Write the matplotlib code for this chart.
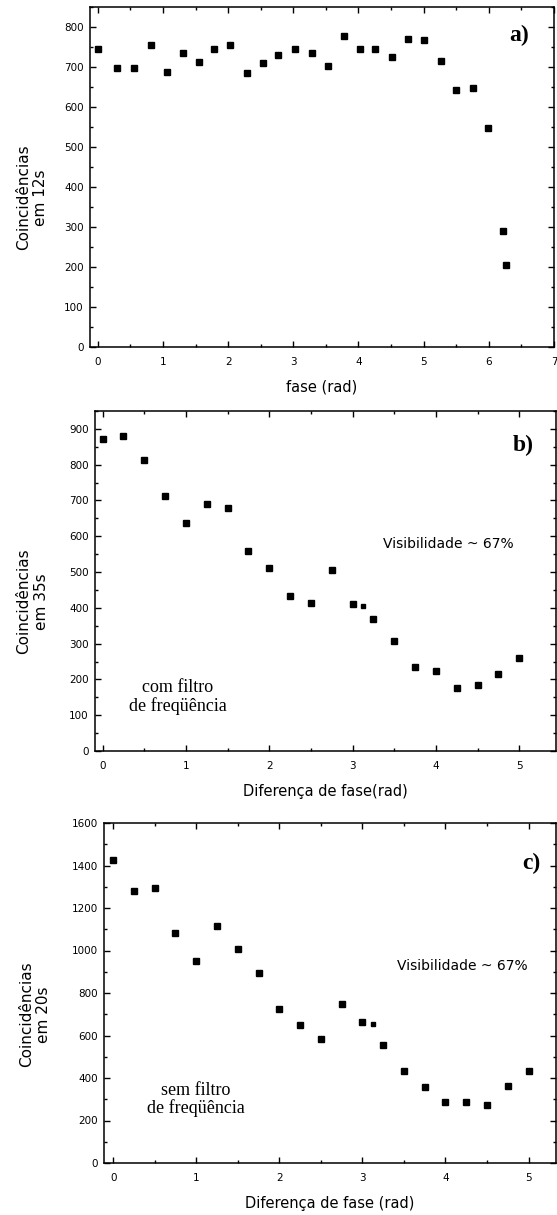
import matplotlib.pyplot as plt
from matplotlib.ticker import MultipleLocator

plt.rcParams['font.family'] = ['DejaVu Sans']

# a) fase vs coincidencias em 12s
fase_a = [0.0, 0.3, 0.56, 0.82, 1.06, 1.3, 1.55, 1.79, 2.03, 2.29, 2.54, 2.77,
          3.03, 3.28, 3.53, 3.77, 4.02, 4.26, 4.51, 4.76, 5.0, 5.26, 5.5, 5.75,
          5.99, 6.22, 6.27]
coinc_a = [746, 698, 698, 754, 688, 734, 713, 745, 756, 685, 710, 731,
           745, 734, 702, 778, 745, 745, 726, 771, 767, 716, 643, 647,
           547, 291, 206]

# b) com filtro, 35s
fase_b = [0.0, 0.25, 0.5, 0.75, 1.0, 1.25, 1.5, 1.75, 2.0, 2.25, 2.5, 2.75,
          3.0, 3.25, 3.5, 3.75, 4.0, 4.25, 4.5, 4.75, 5.0]
coinc_b = [871, 880, 813, 713, 636, 689, 680, 560, 511, 433, 414, 507,
           410, 368, 306, 236, 224, 177, 185, 214, 260]
pi_b = [3.13]
coinc_pi_b = [404]

# c) sem filtro, 20s
fase_c = [0.0, 0.25, 0.5, 0.75, 1.0, 1.25, 1.5, 1.75, 2.0, 2.25, 2.5, 2.75,
          3.0, 3.25, 3.5, 3.75, 4.0, 4.25, 4.5, 4.75, 5.0]
coinc_c = [1427, 1278, 1292, 1083, 949, 1117, 1007, 896, 727, 649, 584, 748,
           664, 553, 432, 357, 287, 287, 273, 363, 434]
pi_c = [3.13]
coinc_pi_c = [653]

W, H = 557, 1215
fig = plt.figure(figsize=(W / 100, H / 100), dpi=100)


def eixo(l, r, t, b):
    return fig.add_axes([l / W, 1 - b / H, (r - l) / W, (b - t) / H])


def estilo(ax, ymaj, ymin):
    ax.xaxis.set_major_locator(MultipleLocator(1))
    ax.xaxis.set_minor_locator(MultipleLocator(0.5))
    ax.yaxis.set_major_locator(MultipleLocator(ymaj))
    ax.yaxis.set_minor_locator(MultipleLocator(ymin))
    ax.tick_params(which='both', direction='in', top=True, right=True,
                   width=1.0, labelsize=7.5, colors='black')
    ax.tick_params(axis='x', which='both', pad=7.5)
    ax.tick_params(axis='y', which='both', pad=4.5)
    ax.tick_params(which='major', length=4)
    ax.tick_params(which='minor', length=2)
    for s in ax.spines.values():
        s.set_linewidth(1.1)


serif = 'Liberation Serif'

# painel a
ax1 = eixo(90, 554, 7, 347)
ax1.plot(fase_a, coinc_a, 's', color='black', ms=4.6)
ax1.set_xlim(-0.12, 7)
ax1.set_ylim(0, 850)
estilo(ax1, 100, 50)
ax1.set_xlabel('fase (rad)', fontsize=10.5, labelpad=9)
ax1.set_ylabel('Coincidências\nem 12s', fontsize=11)
ax1.yaxis.set_label_coords(-0.09, 0.44)
ax1.text(6.46, 780, 'a)', family=serif, weight='bold',
         fontsize=17, ha='center', va='center')

# painel b
ax2 = eixo(95, 556, 411, 751)
ax2.plot(fase_b, coinc_b, 's', color='black', ms=4.6)
ax2.plot(pi_b, coinc_pi_b, 's', color='black', ms=3.3)
ax2.set_xlim(-0.09, 5.44)
ax2.set_ylim(0, 950)
estilo(ax2, 100, 50)
ax2.set_xlabel('Diferença de fase(rad)', fontsize=10.5, labelpad=9)
ax2.set_ylabel('Coincidências\nem 35s', fontsize=11)
ax2.yaxis.set_label_coords(-0.1, 0.44)
ax2.text(5.05, 855, 'b)', family=serif, weight='bold',
         fontsize=17, ha='center', va='center')
ax2.text(4.15, 577, 'Visibilidade ~ 67%', fontsize=10, ha='center', va='center')
ax2.text(0.9, 151, 'com filtro\nde freqüência', family=serif,
         fontsize=13, ha='center', va='center', linespacing=1.05)

# painel c
ax3 = eixo(104, 556, 823, 1163)
ax3.plot(fase_c, coinc_c, 's', color='black', ms=4.6)
ax3.plot(pi_c, coinc_pi_c, 's', color='black', ms=3.3)
ax3.set_xlim(-0.11, 5.33)
ax3.set_ylim(0, 1600)
estilo(ax3, 200, 100)
ax3.set_xlabel('Diferença de fase (rad)', fontsize=10.5, labelpad=9)
ax3.set_ylabel('Coincidências\nem 20s', fontsize=11)
ax3.yaxis.set_label_coords(-0.117, 0.437)
ax3.text(5.03, 1408, 'c)', family=serif, weight='bold',
         fontsize=17, ha='center', va='center')
ax3.text(4.2, 925, 'Visibilidade ~ 67%', fontsize=10, ha='center', va='center')
ax3.text(0.99, 298, 'sem filtro\nde freqüência', family=serif,
         fontsize=13, ha='center', va='center', linespacing=1.05)

fig.savefig('out.png', dpi=100)
